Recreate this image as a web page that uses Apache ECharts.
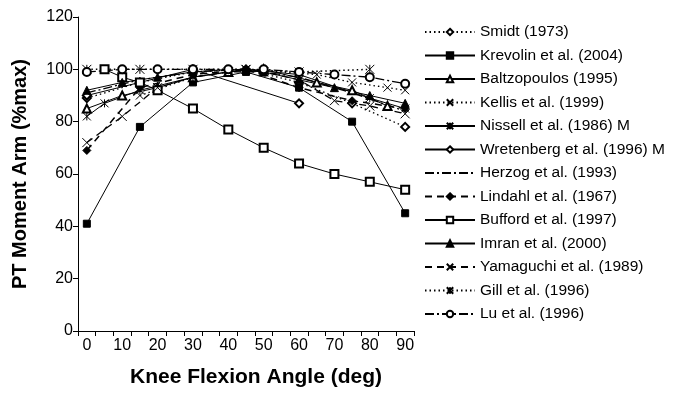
<!DOCTYPE html>
<html>
<head>
<meta charset="utf-8">
<script src="https://cdn.jsdelivr.net/npm/echarts@6/dist/echarts.min.js"></script>
<style>
  html, body { margin: 0; padding: 0; background: #fff; }
  #chart { width: 683px; height: 394px; }
</style>
</head>
<body>
<div id="chart"></div>
<script>
// x categories every 5 deg, labels every 10 deg
const angleCats = ['0', '5', '10', '15', '20', '25', '30', '35', '40', '45', '50', '55', '60', '65', '70', '75', '80', '85', '90']
const yTicks = [0, 20, 40, 60, 80, 100, 120]

// angles (deg) and moment arm (%max) per study
const smidtAng = [0, 15, 30, 45, 60, 75, 90]
const smidtVal = [89, 95, 99, 100, 95, 87, 78]
const krevolinAng = [0, 15, 30, 45, 60, 75, 90]
const krevolinVal = [41, 78, 95, 99, 93, 80, 45]
const baltzAng = [0, 10, 20, 30, 40, 50, 65, 75, 85]
const baltzVal = [85, 90, 93, 97, 99, 100, 95, 92, 86]
const kellisAng = [15, 30, 45, 65, 75, 85, 90]
const kellisVal = [90, 97, 100, 98, 95, 93, 92]
const nissellAng = [0, 5, 15, 30, 45, 60, 80, 90]
const nissellVal = [82, 87, 92, 97, 100, 98, 89, 85]
const wretenbergAng = [0, 15, 30, 60]
const wretenbergVal = [90, 95, 100, 87]
const herzogAng = [0, 15, 30, 45, 60, 75, 90]
const herzogVal = [91, 96, 99, 100, 97, 91, 84]
const lindahlAng = [0, 15, 30, 45, 60, 75, 90]
const lindahlVal = [69, 93, 98, 100, 93, 88, 85]
const buffordAng = [5, 10, 15, 20, 30, 40, 50, 60, 70, 80, 90]
const buffordVal = [100, 97, 95, 92, 85, 77, 70, 64, 60, 57, 54]
const imranAng = [0, 10, 20, 30, 40, 50, 60, 70, 80, 90]
const imranVal = [92, 95, 97, 99, 100, 99, 96, 93, 90, 87]
const yamaguchiAng = [0, 10, 20, 30, 40, 50, 60, 70, 80, 90]
const yamaguchiVal = [72, 82, 93, 97, 99, 99, 96, 88, 86, 83]
const gillAng = [0, 15, 30, 45, 60, 80]
const gillVal = [100, 100, 100, 100, 99, 100]
const luAng = [0, 10, 20, 30, 40, 50, 60, 70, 80, 90]
const luVal = [99, 100, 100, 100, 100, 100, 99, 98, 97, 94.5]

const FONT = 'Liberation Sans, Arial, sans-serif'
const DOT = [1.5, 3]
const DASH = [7, 5]
const DASHDOT = [9, 3, 2, 3]
const X_SYM = 'path://M0,0L10,10M10,0L0,10'
const STAR_SYM = 'path://M0,0L10,10M10,0L0,10M5,0L5,10'

function pts(ang, val) {
  return ang.map((a, i) => [a / 5, val[i]])
}

function mkSeries(name, ang, val, symbol, size, dash, width) {
  const noMark = symbol === 'none'
  return {
    name: name,
    type: 'line',
    data: pts(ang, val),
    // herzog has no marker: keep a transparent one so the legend shows only the line
    symbol: noMark ? 'circle' : symbol,
    symbolSize: size,
    showSymbol: !noMark,
    lineStyle: { color: '#000', width: width || 1, type: dash },
    itemStyle: noMark
      ? { color: 'transparent', borderColor: 'transparent', borderWidth: 0 }
      : { color: '#000', borderColor: '#000', borderWidth: 1 },
    emphasis: { disabled: true },
    z: 2
  }
}

const series = [
  mkSeries('Smidt (1973)', smidtAng, smidtVal, 'emptyDiamond', 8, DOT, 1.3),
  mkSeries('Krevolin et al. (2004)', krevolinAng, krevolinVal, 'rect', 7, 'solid'),
  mkSeries('Baltzopoulos (1995)', baltzAng, baltzVal, 'emptyTriangle', 8, 'solid'),
  mkSeries('Kellis et al. (1999)', kellisAng, kellisVal, X_SYM, 8, DOT, 1.3),
  mkSeries('Nissell et al. (1986) M', nissellAng, nissellVal, STAR_SYM, 8, 'solid'),
  mkSeries('Wretenberg et al. (1996) M', wretenbergAng, wretenbergVal, 'emptyDiamond', 8, 'solid'),
  mkSeries('Herzog et al. (1993)', herzogAng, herzogVal, 'none', 0, DASHDOT, 1.3),
  mkSeries('Lindahl et al. (1967)', lindahlAng, lindahlVal, 'diamond', 8, DASH, 1.5),
  mkSeries('Bufford et al. (1997)', buffordAng, buffordVal, 'emptyRect', 8, 'solid'),
  mkSeries('Imran et al. (2000)', imranAng, imranVal, 'triangle', 8, 'solid'),
  mkSeries('Yamaguchi et al. (1989)', yamaguchiAng, yamaguchiVal, X_SYM, 9, DASH, 1.3),
  mkSeries('Gill et al. (1996)', gillAng, gillVal, STAR_SYM, 9, DOT, 1.5),
  mkSeries('Lu et al. (1996)', luAng, luVal, 'emptyCircle', 8, DASHDOT, 1.3)
]

const chart = echarts.init(document.getElementById('chart'), null, { renderer: 'canvas' })
chart.setOption({
  animation: false,
  backgroundColor: '#fff',
  textStyle: { fontFamily: FONT },
  grid: { left: 78, right: 269, top: 17, bottom: 63 },
  legend: {
    orient: 'vertical',
    left: 424,
    top: 24,
    padding: 0,
    itemWidth: 50,
    itemHeight: 8,
    itemGap: 7.5,
    selectedMode: false,
    textStyle: { fontFamily: FONT, fontSize: 15.5, lineHeight: 16, color: '#000' },
    data: series.map(s => s.name)
  },
  xAxis: {
    type: 'category',
    data: angleCats,
    boundaryGap: true,
    name: 'Knee Flexion Angle (deg)',
    nameLocation: 'middle',
    nameGap: 36,
    nameTextStyle: { fontFamily: FONT, fontSize: 21, fontWeight: 'bold', color: '#000', padding: [0, 0, 0, 20] },
    axisLine: { lineStyle: { color: '#000', width: 1 } },
    axisTick: { show: true, interval: 0, length: 5, inside: false, lineStyle: { color: '#000' } },
    axisLabel: { interval: 1, fontSize: 16, color: '#000', margin: 7, fontFamily: FONT },
    splitLine: { show: false }
  },
  yAxis: {
    type: 'value',
    min: yTicks[0],
    max: yTicks[yTicks.length - 1],
    interval: 20,
    name: 'PT Moment Arm (%max)',
    nameLocation: 'middle',
    nameGap: 48,
    nameTextStyle: { fontFamily: FONT, fontSize: 20, fontWeight: 'bold', color: '#000' },
    axisLine: { show: true, lineStyle: { color: '#000', width: 1 } },
    axisTick: { show: true, length: 5, lineStyle: { color: '#000' } },
    axisLabel: { fontSize: 16, color: '#000', margin: 5, fontFamily: FONT },
    splitLine: { show: false }
  },
  series: series
})
</script>
</body>
</html>
